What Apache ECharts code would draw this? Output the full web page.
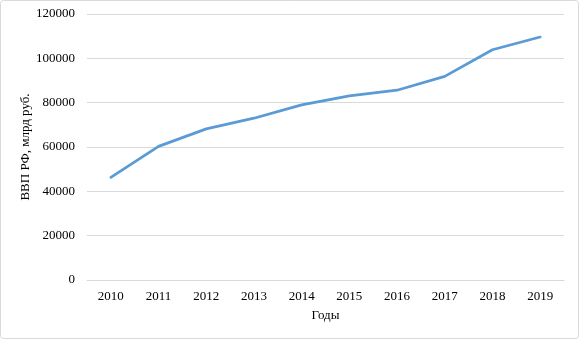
<!DOCTYPE html>
<html><head><meta charset="utf-8">
<script src="https://cdn.jsdelivr.net/npm/echarts@6/dist/echarts.min.js"></script>
<style>html,body{margin:0;padding:0;background:#fff}#c{width:579px;height:339px}</style>
</head><body><div id="c"></div>
<script>
const years = ['2010','2011','2012','2013','2014','2015','2016','2017','2018','2019'];
const gdp = [46309, 60283, 68164, 72986, 79030, 83087, 85616, 91843, 103862, 109608];
const yTicks = {min: 0, max: 120000, interval: 20000};
const xTitle = 'Годы';
const yTitle = 'ВВП РФ, млрд руб.';

const chart = echarts.init(document.getElementById('c'), null, {renderer: 'canvas'});
const font = '"Liberation Serif", "Times New Roman", serif';
chart.setOption({
  animation: false,
  textStyle: {fontFamily: font},
  graphic: [{type: 'rect', shape: {x: 0.5, y: 0.5, width: 578, height: 338, r: 3}, style: {fill: 'none', stroke: '#d9d9d9', lineWidth: 1}, silent: true}],
  grid: {left: 87, right: 15, top: 14, bottom: 59},
  xAxis: {
    type: 'category', data: years, boundaryGap: true,
    name: xTitle, nameLocation: 'middle', nameGap: 29, nameMoveOverlap: false,
    nameTextStyle: {fontFamily: font, fontSize: 13, color: '#000'},
    axisLine: {lineStyle: {color: '#d9d9d9', width: 1}},
    axisTick: {show: false},
    axisLabel: {fontFamily: font, fontSize: 13, color: '#000', margin: 10}
  },
  yAxis: {
    type: 'value', min: yTicks.min, max: yTicks.max, interval: yTicks.interval,
    name: yTitle, nameLocation: 'middle', nameGap: 55, nameRotate: 90, nameMoveOverlap: false,
    nameTextStyle: {fontFamily: font, fontSize: 13, color: '#000'},
    axisLine: {show: false}, axisTick: {show: false},
    axisLabel: {fontFamily: font, fontSize: 13, color: '#000', margin: 12, formatter: v => String(v)},
    splitLine: {lineStyle: {color: '#d9d9d9', width: 1}}
  },
  series: [{type: 'line', data: gdp, showSymbol: false, symbol: 'none',
    lineStyle: {color: '#5b9bd5', width: 2.75, cap: 'round', join: 'round'}}]
});
</script></body></html>
